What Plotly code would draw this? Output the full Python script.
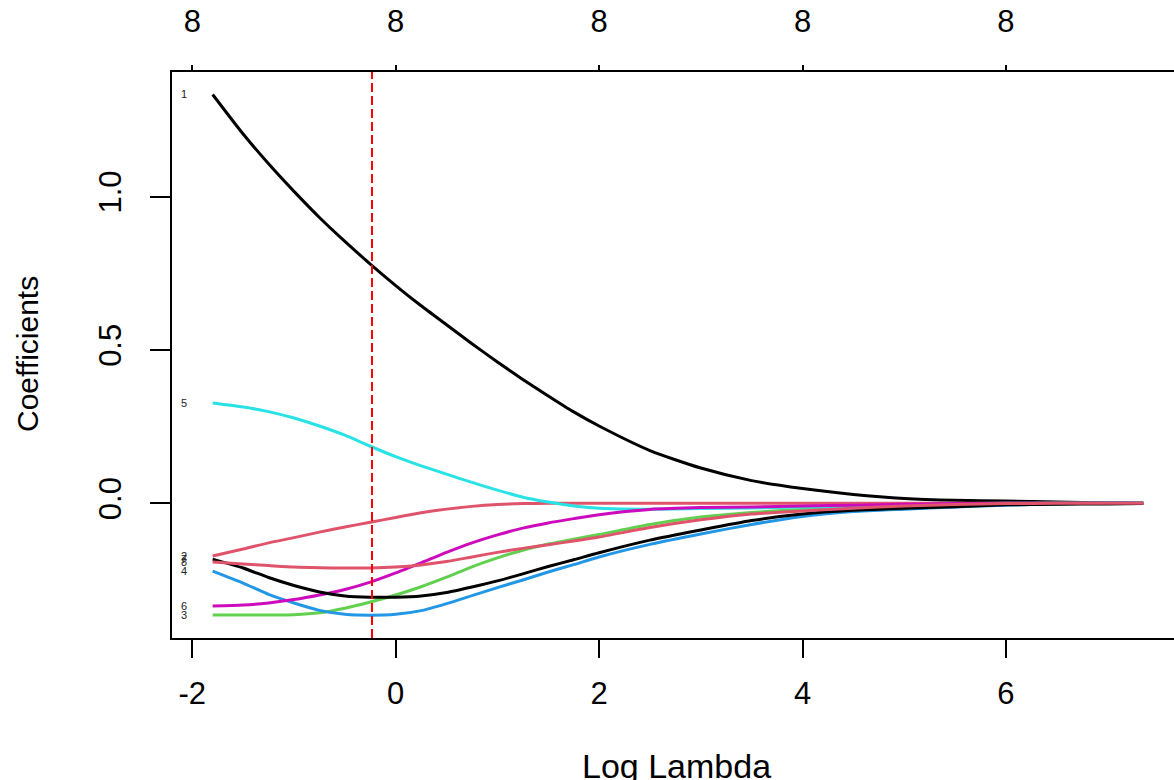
import plotly.graph_objects as go

# log(lambda) grid
log_lambda = [-1.8, -1.5, -1.25, -1, -0.75, -0.5, -0.25, 0, 0.25, 0.5, 0.75, 1, 1.25, 1.5, 1.75,
              2, 2.5, 3, 3.5, 4, 4.5, 5, 5.5, 6, 6.5, 7, 7.35]

coef_1 = [1.333, 1.204, 1.107, 1.017, 0.932, 0.854, 0.780, 0.710, 0.644, 0.582, 0.520, 0.461, 0.404, 0.350,
          0.298, 0.252, 0.172, 0.115, 0.074, 0.048, 0.029, 0.016, 0.010, 0.0075, 0.004, 0.002, 0.001]
coef_2 = [-0.172, -0.149, -0.129, -0.112, -0.094, -0.077, -0.062, -0.046, -0.031, -0.019, -0.010, -0.004, -0.001,
          0, 0, 0, 0, 0, 0, 0, 0, 0, 0, 0, 0, 0, 0]
coef_3 = [-0.364, -0.364, -0.364, -0.363, -0.357, -0.342, -0.322, -0.299, -0.272, -0.241, -0.207, -0.178, -0.153,
          -0.133, -0.117, -0.102, -0.069, -0.045, -0.030, -0.020, -0.014, -0.009, -0.005, -0.002, 0, 0, 0]
coef_4 = [-0.221, -0.260, -0.297, -0.325, -0.349, -0.362, -0.365, -0.362, -0.350, -0.327, -0.301, -0.275, -0.250,
          -0.224, -0.200, -0.175, -0.134, -0.100, -0.069, -0.043, -0.027, -0.019, -0.012, -0.006, -0.002, 0, 0]
coef_5 = [0.327, 0.314, 0.299, 0.278, 0.252, 0.222, 0.186, 0.152, 0.122, 0.095, 0.068, 0.043, 0.020, 0.004,
          -0.009, -0.016, -0.019, -0.017, -0.015, -0.012, -0.010, -0.007, -0.002, 0, 0, 0, 0]
coef_6 = [-0.335, -0.332, -0.325, -0.314, -0.299, -0.281, -0.257, -0.227, -0.194, -0.160, -0.129, -0.103, -0.081,
          -0.064, -0.050, -0.037, -0.020, -0.014, -0.012, -0.009, -0.006, -0.003, -0.001, 0, 0, 0, 0]
coef_7 = [-0.182, -0.211, -0.242, -0.268, -0.289, -0.302, -0.306, -0.306, -0.302, -0.291, -0.273, -0.253, -0.230,
          -0.206, -0.184, -0.161, -0.120, -0.087, -0.056, -0.035, -0.023, -0.016, -0.011, -0.005, -0.003, -0.002, -0.001]
coef_8 = [-0.191, -0.198, -0.203, -0.208, -0.210, -0.211, -0.211, -0.208, -0.201, -0.190, -0.175, -0.160, -0.147,
          -0.135, -0.123, -0.110, -0.079, -0.054, -0.035, -0.025, -0.016, -0.009, -0.004, -0.001, 0, 0, 0]

coefs = [coef_1, coef_2, coef_3, coef_4, coef_5, coef_6, coef_7, coef_8]
var_labels = ["1", "2", "3", "4", "5", "6", "7", "8"]
colors = ["#000000", "#DF536B", "#61D04F", "#2297E6", "#28E2E5", "#CD0BBC", "#000000", "#DF536B"]

x_ticks = [-2, 0, 2, 4, 6]
x_ticklabels = ["-2", "0", "2", "4", "6"]
y_ticks = [0.0, 0.5, 1.0]
y_ticklabels = ["0.0", "0.5", "1.0"]
df_ticks = [-2, 0, 2, 4, 6]
df_labels = ["8", "8", "8", "8", "8"]
lambda_min_log = -0.233

FONT = "Liberation Sans, Arial, sans-serif"

fig = go.Figure()
for c, col in zip(coefs, colors):
    fig.add_trace(go.Scatter(x=log_lambda, y=c, mode="lines",
                             line=dict(color=col, width=3, shape="spline", smoothing=0.6),
                             showlegend=False, hoverinfo="skip"))

# dummy trace to activate the top axis
fig.add_trace(go.Scatter(x=df_ticks, y=[None] * len(df_ticks), xaxis="x2", mode="lines",
                         showlegend=False, hoverinfo="skip"))

for lab, c in zip(var_labels, coefs):
    fig.add_annotation(x=log_lambda[0], y=c[0], text=lab, showarrow=False,
                       xanchor="right", yanchor="middle", xshift=-24,
                       font=dict(family=FONT, size=11, color="#222"))

fig.add_shape(type="line", x0=lambda_min_log, x1=lambda_min_log, yref="paper", y0=0, y1=1,
              line=dict(color="#FF0000", width=2, dash="9px,4px"))

fig.add_annotation(text="Coefficients", xref="paper", yref="paper",
                   x=(27 - 172) / 1002, y=(638 - 354) / 566, textangle=-90,
                   showarrow=False, xanchor="center", yanchor="middle",
                   font=dict(family=FONT, size=30, color="#000"))
fig.add_annotation(text="Log Lambda", xref="paper", yref="paper",
                   x=(676 - 172) / 1002, y=(638 - 766) / 566,
                   showarrow=False, xanchor="center", yanchor="middle",
                   font=dict(family=FONT, size=34, color="#000"))

xr = [(172 - 395.7) / 101.7, (1174 - 395.7) / 101.7]
yr = [(503.3 - 638) / 306.7, (503.3 - 72) / 306.7]

fig.update_layout(
    width=1174, height=780,
    margin=dict(l=172, r=0, t=72, b=142, autoexpand=False),
    paper_bgcolor="white", plot_bgcolor="white",
    xaxis=dict(range=xr, tickvals=x_ticks, ticktext=x_ticklabels, showgrid=False, zeroline=False,
               showline=True, linecolor="#000", linewidth=2, ticks="outside", ticklen=18,
               tickwidth=2, tickcolor="#000", ticklabelstandoff=9,
               tickfont=dict(family=FONT, size=31, color="#000")),
    xaxis2=dict(range=xr, overlaying="x", side="top", tickvals=df_ticks, ticktext=df_labels,
                showgrid=False, zeroline=False, showline=True, linecolor="#000", linewidth=2,
                ticks="outside", ticklen=5, tickwidth=2, tickcolor="#000", ticklabelstandoff=21,
                tickfont=dict(family=FONT, size=31, color="#000")),
    yaxis=dict(range=yr, tickvals=y_ticks, ticktext=y_ticklabels, showgrid=False, zeroline=False,
               showline=True, linecolor="#000", linewidth=2, ticks="outside", ticklen=20,
               tickwidth=2, tickcolor="#000", tickangle=-90, ticklabelstandoff=17,
               tickfont=dict(family=FONT, size=31, color="#000")),
)

fig.write_html("out.html")
